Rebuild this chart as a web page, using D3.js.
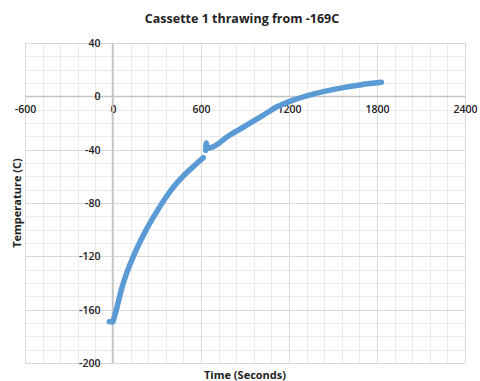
<!DOCTYPE html>
<html><head><meta charset="utf-8">
<script src="https://cdn.jsdelivr.net/npm/d3@7"></script>
<style>
html,body{margin:0;padding:0;background:#fff;}
svg{display:block;}
text{font-family:"Open Sans","Liberation Sans",sans-serif;fill:#222;}
</style></head>
<body>
<script>
const timeSeconds = [-25, -10, 0, 5, 23, 57, 102, 159, 227, 307, 398, 500, 560, 615, null,
                     632, 636, 642, 660, 690, 784, 898, 1012, 1125, 1239, 1352, 1466, 1580, 1693, 1830];
const temperatureC = [-169, -169, -169, -167, -160, -145, -130, -115, -100, -85, -70, -57.5, -51.5, -46, null,
                      -40.5, -35, -38.5, -38.7, -37.5, -30, -22.5, -15, -7.5, -2.5, 1.25, 4.25, 6.75, 8.75, 10.5];
const xTicks = [-600, 0, 600, 1200, 1800, 2400];
const yTicks = [40, 0, -40, -80, -120, -160, -200];
const xMinorStep = 120;
const yMinorStep = 10;
const titleText = "Cassette 1 thrawing from -169C";
const xTitle = "Time (Seconds)";
const yTitle = "Temperature (C)";

const W = 480, H = 381;
const L = 25, R = 465, T = 43, B = 363;

const svg = d3.select("body").append("svg").attr("width", W).attr("height", H);

const x = d3.scaleLinear().domain([-600, 2400]).range([L, R]);
const y = d3.scaleLinear().domain([-200, 40]).range([B, T]);

// minor grid
const xMinor = d3.range(-600, 2400 + 1, xMinorStep);
const yMinor = d3.range(-200, 40 + 1, yMinorStep);
const g = svg.append("g");
g.selectAll(".vmin").data(xMinor).enter().append("line")
  .attr("x1", d => Math.round(x(d)) + 0.5).attr("x2", d => Math.round(x(d)) + 0.5)
  .attr("y1", T).attr("y2", B).attr("stroke", "#ebebeb").attr("stroke-width", 1);
g.selectAll(".hmin").data(yMinor).enter().append("line")
  .attr("y1", d => Math.round(y(d)) + 0.5).attr("y2", d => Math.round(y(d)) + 0.5)
  .attr("x1", L).attr("x2", R).attr("stroke", "#ebebeb").attr("stroke-width", 1);
// major grid
g.selectAll(".vmaj").data(xTicks).enter().append("line")
  .attr("x1", d => Math.round(x(d)) + 0.5).attr("x2", d => Math.round(x(d)) + 0.5)
  .attr("y1", T).attr("y2", B).attr("stroke", "#d9d9d9").attr("stroke-width", 1);
g.selectAll(".hmaj").data(yTicks).enter().append("line")
  .attr("y1", d => Math.round(y(d)) + 0.5).attr("y2", d => Math.round(y(d)) + 0.5)
  .attr("x1", L).attr("x2", R).attr("stroke", "#d9d9d9").attr("stroke-width", 1);

// axes through zero
const fmt = d => String(d);
const xAxis = d3.axisBottom(x).tickValues(xTicks).tickSize(0).tickPadding(9).tickFormat(fmt);
const yAxis = d3.axisLeft(y).tickValues(yTicks).tickSize(0).tickPadding(12).tickFormat(fmt);
const gx = svg.append("g").attr("transform", `translate(0,${Math.round(y(0)) + 0.5})`).call(xAxis);
const gy = svg.append("g").attr("transform", `translate(${Math.round(x(0)) - 0.5},0)`).call(yAxis);
[gx, gy].forEach(a => {
  a.select(".domain").attr("stroke", "#c4c4c4").attr("stroke-width", 1.5);
  a.selectAll("text").style("font-family", '"Open Sans","Liberation Sans",sans-serif')
    .style("font-size", "10.5px").style("font-weight", "600").attr("fill", "#1a1a1a");
});
gx.select(".domain").attr("d", `M${L},0H${R}`);
gy.select(".domain").attr("d", `M0,${T}V${B}`);

// series
const pts = timeSeconds.map((t, i) => [t, temperatureC[i]]);
const line = d3.line().defined(d => d[0] !== null && d[1] !== null)
  .x(d => x(d[0])).y(d => y(d[1])).curve(d3.curveMonotoneX);
svg.append("path").datum(pts).attr("d", line)
  .attr("fill", "none").attr("stroke", "#5b9bd5").attr("stroke-width", 5.5)
  .attr("stroke-linecap", "round").attr("stroke-linejoin", "round");

// titles
svg.append("text").attr("x", 242).attr("y", 23).attr("text-anchor", "middle")
  .style("font-size", "12.5px").style("font-weight", "700").text(titleText);
svg.append("text").attr("x", 245).attr("y", 379).attr("text-anchor", "middle")
  .style("font-size", "11px").style("font-weight", "700").text(xTitle);
svg.append("text").attr("transform", "translate(21,203) rotate(-90)").attr("text-anchor", "middle")
  .style("font-size", "11px").style("font-weight", "700").text(yTitle);
</script>
</body></html>
